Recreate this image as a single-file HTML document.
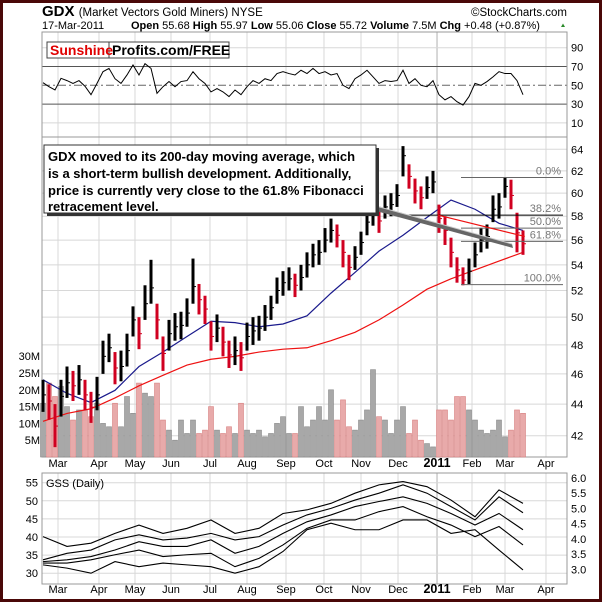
<!DOCTYPE html>
<html><head><meta charset="utf-8"><style>
html,body{margin:0;padding:0;background:#fff}
svg{display:block;font-family:"Liberation Sans",sans-serif}
</style></head><body>
<svg id="c" width="602" height="602" viewBox="0 0 602 602" xmlns="http://www.w3.org/2000/svg">
<rect x="1.5" y="1.5" width="599" height="599" fill="#fff" stroke="#4a0808" stroke-width="3"/>
<g id="grid"></g>
<rect x="42" y="32" width="525" height="105" fill="none" stroke="#999"/>
<rect x="42" y="137" width="525" height="320" fill="none" stroke="#999"/>
<rect x="42" y="473" width="525" height="111" fill="none" stroke="#999"/>
<g id="marks"></g>
<text x="42" y="16" font-size="15" font-weight="bold">GDX <tspan font-size="11.5" font-weight="normal">(Market Vectors Gold Miners) NYSE</tspan></text>
<text x="567" y="16" font-size="11.5" text-anchor="end">©StockCharts.com</text>
<text x="42" y="29" font-size="11">17-Mar-2011</text>
<text x="131" y="29" font-size="11"><tspan font-weight="bold">Open</tspan> 55.68 <tspan font-weight="bold">High</tspan> 55.97 <tspan font-weight="bold">Low</tspan> 55.06 <tspan font-weight="bold">Close</tspan> 55.72 <tspan font-weight="bold">Volume</tspan> 7.5M <tspan font-weight="bold">Chg</tspan> +0.48 (+0.87%)</text>
<polygon points="561,27 565,27 563,23.5" fill="#2a8a2a"/>
<g>
<rect x="47" y="42" width="182" height="16" fill="#fff" stroke="#444"/>
<line x1="109" y1="42" x2="109" y2="58" stroke="#444"/>
<text x="50" y="55" font-size="14" font-weight="bold" fill="#e00000">Sunshine</text>
<text x="112" y="55" font-size="14" font-weight="bold" fill="#000">Profits.com/FREE</text>
</g>
<g>
<polygon points="374,205 376,211 513,248 512,244" fill="#666"/>
<line x1="376" y1="206" x2="512" y2="244" stroke="#ccc" stroke-width="1"/>
<rect x="47" y="148" width="332" height="68" fill="#333"/>
<rect x="44" y="145" width="332" height="68" fill="#fff" stroke="#333"/>
<text font-size="13" font-weight="bold">
<tspan x="48" y="161">GDX moved to its 200-day moving average, which</tspan>
<tspan x="48" y="178">is a short-term bullish development. Additionally,</tspan>
<tspan x="48" y="195">price is currently very close to the 61.8% Fibonacci</tspan>
<tspan x="48" y="211">retracement level.</tspan>
</text>
</g>
<text x="46" y="487" font-size="11">GSS (Daily)</text>
<g id="labels" font-size="11"></g>
</svg>
<script>
const closes=[44.6,44.2,42.6,44.5,45.4,45.2,45.6,44.6,43.8,44.6,47.2,47.8,46.4,46.5,47.6,49.8,48.8,51.0,52.2,49.8,47.4,48.8,49.3,49.4,50.3,52.3,51.3,50.6,48.6,49.2,48.2,47.3,47.6,47.1,48.6,49.0,49.2,50.0,50.7,52.0,52.6,52.9,52.4,53.0,54.0,54.8,55.0,56.0,56.8,56.4,55.0,53.8,54.6,55.8,57.5,58.2,57.6,58.8,59.0,59.8,63.4,61.5,60.2,59.6,60.5,61.0,57.8,56.8,55.0,53.6,52.8,53.5,54.8,56.0,56.3,58.6,58.8,60.6,59.8,56.6,55.7];
const highs=[45.6,45.3,44.0,45.6,46.5,46.2,46.6,45.6,44.8,45.8,48.3,48.8,47.5,47.6,48.8,50.8,50.0,52.4,54.4,51.0,48.6,49.8,50.3,50.4,51.4,54.5,52.5,51.6,49.7,50.2,49.3,48.3,48.6,48.2,49.6,50.0,50.1,50.9,51.6,53.0,53.5,53.8,53.3,54.0,55.0,55.7,56.0,57.0,57.8,57.3,56.0,54.8,55.5,56.7,58.4,59.0,58.6,59.8,60.0,60.8,64.3,62.6,61.3,60.6,61.5,62.0,59.0,58.0,56.2,54.6,53.8,54.5,55.8,57.0,57.3,59.8,60.0,61.4,61.2,58.3,56.8];
const lows=[43.5,43.0,41.3,43.2,44.4,44.2,44.6,43.6,42.8,43.6,46.0,46.8,45.3,45.5,46.5,48.6,47.7,49.8,51.0,48.4,46.2,47.6,48.3,48.4,49.3,51.0,50.2,49.5,47.6,48.2,47.2,46.4,46.6,46.2,47.6,48.0,48.3,49.0,49.8,51.0,51.6,52.0,51.5,52.0,53.0,53.8,54.0,55.0,55.8,55.4,53.8,52.8,53.6,54.8,56.4,57.2,56.6,57.8,58.0,58.8,61.5,60.4,59.1,58.6,59.5,60.0,56.6,55.6,53.8,52.6,52.4,52.5,53.8,55.0,55.3,57.5,57.8,59.6,58.6,55.0,54.8];
const volumes=[16,22,18,21,15,11,14,14,12,16,10,9,16,9,18,13,22,19,18,22,11,8,5,11,7,11,7,8,15,8,7,9,7,16,8,7,8,6,7,10,12,7,7,15,9,11,15,11,20,11,17,9,8,11,14,26,12,11,7,11,15,7,11,5,4,3,14,14,11,18,18,14,11,8,7,8,11,6,8,14,13];
const rsi=[52.8,48.5,45,57.4,55,52,55,49,40,52,64.5,68,57,52,61,71.6,61,73,68,41.5,48.5,54,48.5,54,55,64.5,57,52,43,46.5,43,38,45,40,48.5,55,52,57,55,62.5,64.5,62.5,61,66,62.5,68,62.5,64.5,61,62.5,50,46.5,57,61,66,59,52,55,54,55,66,52,57,50,48.5,55,40,34.5,38,32.5,29,38,52,50,54,59,64.5,62.5,62.5,55,40];
const ma50=[45.6,44.7,44.1,44.9,46.5,47.5,48.6,49.7,49.6,49.3,49.5,50.1,51.8,53.4,55.1,56.4,57.9,59.4,58.6,57.4,56.8];
const ma200=[42.9,43.4,43.7,44.4,45.2,45.9,46.6,47.0,47.2,47.5,47.7,47.8,48.3,48.9,49.8,50.9,52.1,52.9,53.6,54.3,55.0];
const gss1=[40.1,37.4,38.3,41.0,43.3,41.0,42.4,44.7,41.0,42.4,46.5,47.5,49.3,52.1,54.4,55.3,53.9,50.2,45.6,53.0,49.3];
const gss2=[33.7,35.5,36.4,39.2,40.6,39.2,39.7,41.0,39.2,40.1,43.3,46.1,47.9,50.2,52.1,54.4,52.1,48.4,44.7,51.1,46.7];
const gss3=[33.2,33.7,34.6,36.4,38.7,37.4,37.4,39.2,35.5,37.4,41.0,44.2,46.1,48.4,49.8,51.1,49.3,46.5,43.3,46.5,42.0];
const gss4=[32.8,32.8,33.7,35.1,36.4,34.6,35.1,35.5,31.8,34.1,37.8,42.4,44.7,44.7,47.0,48.4,45.6,43.3,40.1,42.9,37.8];
const gss5=[32.3,31.4,30.0,33.2,31.8,32.8,32.3,31.8,30.0,31.8,36.0,42.0,43.8,42.0,42.0,44.7,44.7,41.0,42.0,36.4,30.9];
const monthLabels=["Mar","Apr","May","Jun","Jul","Aug","Sep","Oct","Nov","Dec","2011","Feb","Mar","Apr"];
const monthIdx=[2.5,9.33,15.33,21.33,27.83,34,40.5,46.83,53,59.17,65.67,71.5,77,83.83];
const priceTicks=[42,44,46,48,50,52,54,56,58,60,62,64];
const rsiTicks=[90,70,50,30,10];
const volTicks=[5,10,15,20,25,30];
const gssLeftTicks=[30,35,40,45,50,55];
const gssRightTicks=["3.0","3.5","4.0","4.5","5.0","5.5","6.0"];
const fibLevels=[61.4,58.1,57.0,55.9,52.45];
const fibLabels=["0.0%","38.2%","50.0%","61.8%","100.0%"];

const NS="http://www.w3.org/2000/svg";
const X0=43,DX=6,MAstep=4;
const xAt=i=>X0+i*DX;
const yP=p=>149.3+(Math.log(64)-Math.log(p))*680;
const yR=v=>85.3-(v-50)*0.94;
const yV=v=>457-v*3.36;
const yG=v=>482.7+(55-v)*3.62;
const yG2=v=>478+(6-v)*30.43;
const grid=document.getElementById('grid'),marks=document.getElementById('marks'),labels=document.getElementById('labels');
function mk(tag,attrs,parent){const e=document.createElementNS(NS,tag);for(const k in attrs)e.setAttribute(k,attrs[k]);parent.appendChild(e);return e;}
function txt(x,y,s,parent,anchor,bold){const t=mk('text',{x:x,y:y,'text-anchor':anchor||'start'},parent);if(bold)t.setAttribute('font-weight','bold');t.textContent=s;return t;}

// vertical month grid + labels
monthIdx.forEach((m,i)=>{const x=xAt(m);
 const l=mk('line',{x1:x,y1:32,x2:x,y2:457,stroke:i==10?'#b0b0b0':'#d8d8d8'},grid);
 
 
 const l2=mk('line',{x1:x,y1:473,x2:x,y2:584,stroke:i==10?'#b0b0b0':'#d8d8d8'},grid);
 
 
 [467,593].forEach(yy=>{const t=txt(x,yy,monthLabels[i],labels,'middle',i==10);if(i==10)t.setAttribute('font-size','12.5');
 
 });
});
// RSI ticks
rsiTicks.forEach(v=>{const y=yR(v);const dark=(v==70||v==30);
 const l=mk('line',{x1:42,y1:y,x2:567,y2:y,stroke:dark?'#555':(v==50?'#666':'#d8d8d8')},grid);
 if(v==50)l.setAttribute('stroke-dasharray','8,3,2,3');
 
 
 const t=txt(571,y+4,String(v),labels);
 
 });
// price ticks
priceTicks.forEach(v=>{const y=yP(v);
 const l=mk('line',{x1:42,y1:y,x2:567,y2:y,stroke:'#d8d8d8'},grid);
 
 
 const t=txt(571,y+4,String(v),labels);
 
 });
volTicks.forEach(v=>{const t=txt(40,yV(v)+4,v+'M',labels,'end');
 
 });
gssLeftTicks.forEach(v=>{const y=yG(v);
 const l=mk('line',{x1:42,y1:y,x2:567,y2:y,stroke:'#d8d8d8'},grid);
 
 
 const t=txt(38,y+4,String(v),labels,'end');
 
 });
gssRightTicks.forEach(s=>{const t=txt(571,yG2(parseFloat(s))+4,s,labels);
 
 });

// volume bars
volumes.forEach((v,i)=>{const down=i>0&&closes[i]<closes[i-1];
 const r=mk('rect',{x:xAt(i)-2.5,y:yV(v),width:5,height:457-yV(v),fill:down?'#e8aaaa':'#a8a8a8',stroke:down?'#d88080':'#8a8a8a','stroke-width':0.6},marks);
 
 });
// RSI line
const rl=mk('polyline',{points:rsi.map((v,i)=>xAt(i)+','+yR(v)).join(' '),fill:'none',stroke:'#000','stroke-width':1},marks);


// moving averages
[[ma50,'#1a1a8c','ma50-line'],[ma200,'#ee1111','ma200-line']].forEach(([arr,c,n])=>{
 const l=mk('polyline',{points:arr.map((v,k)=>xAt(k*MAstep)+','+yP(v)).join(' '),fill:'none',stroke:c,'stroke-width':1.2},marks);
 
 });
// price bars
closes.forEach((c,i)=>{const down=i>0&&c<closes[i-1];const col=down?'#d00020':'#000';const x=xAt(i);
 const b=mk('rect',{x:x-1.5,y:yP(highs[i]),width:3,height:yP(lows[i])-yP(highs[i]),fill:col},marks);
 
 
 const t=mk('line',{x1:x,y1:yP(c),x2:x+3,y2:yP(c),stroke:col},marks);
 
 });
// fibonacci
fibLevels.forEach((p,i)=>{const y=yP(p);
 const l=mk('line',{x1:i==1?400:461,y1:y,x2:563,y2:y,stroke:i==1?'#000':'#666'},marks);
 
 
 const t=txt(561,y-3,fibLabels[i],labels,'end');t.setAttribute('fill','#777');
 
 });
const tl=mk('line',{x1:xAt(65.8),y1:yP(58.1),x2:xAt(80.3),y2:yP(56.3),stroke:'#ee1111','stroke-width':1.2},marks);


// GSS lines
[gss1,gss2,gss3,gss4,gss5].forEach((arr,j)=>{
 const l=mk('polyline',{points:arr.map((v,k)=>xAt(k*MAstep)+','+yG(v)).join(' '),fill:'none',stroke:'#000','stroke-width':1.1},marks);
 
 });
</script>
</body></html>
